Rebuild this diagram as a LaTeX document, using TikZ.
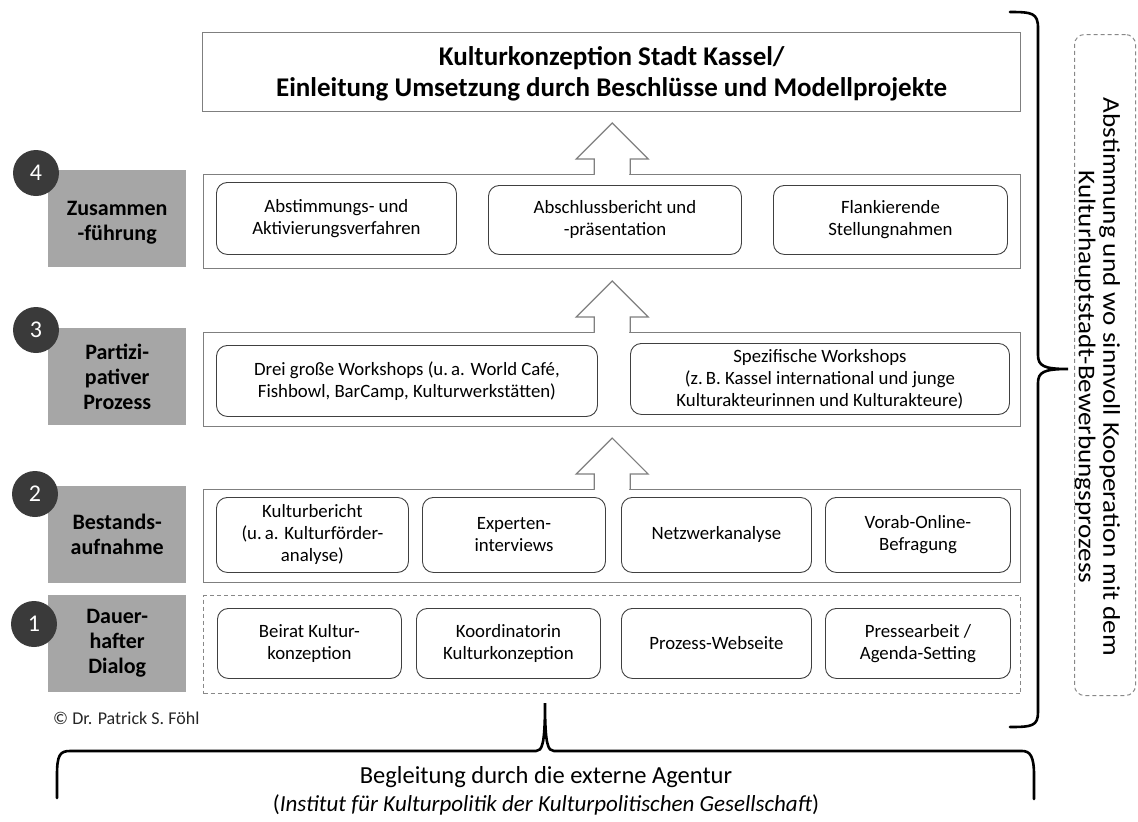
\documentclass[tikz,border=0pt]{standalone}
\usepackage{fontspec}
\setmainfont{Carlito}
\usetikzlibrary{calc}
\definecolor{boxgray}{HTML}{7F7F7F}
\definecolor{labelgray}{HTML}{A6A6A6}
\definecolor{circgray}{HTML}{3A3A3A}
\definecolor{inline}{HTML}{404040}
\definecolor{dashgray}{HTML}{888888}
\begin{document}
\begin{tikzpicture}[x=1pt,y=-1pt,
  outerbox/.style={draw=boxgray, line width=1.3pt, inner sep=0pt, anchor=north west},
  dashbox/.style={draw=dashgray, line width=1pt, dash pattern=on 4pt off 3pt, inner sep=0pt, anchor=north west},
  inbox/.style={draw=inline, line width=0.9pt, rounded corners=11pt, inner sep=0pt, anchor=north west, align=center, font=\fontsize{18.8}{22}\selectfont},
  glabel/.style={fill=labelgray, inner sep=0pt, anchor=north west, minimum width=138pt, minimum height=97pt},
  gtext/.style={align=center, inner sep=0pt, font=\bfseries\fontsize{22}{25}\selectfont},
  numc/.style={circle, fill=circgray, text=white, minimum size=46pt, inner sep=0pt, font=\fontsize{24}{24}\selectfont},
  arrowline/.style={draw=boxgray, line width=1.2pt, line join=miter},
  bracel/.style={draw=black, line width=2.6pt, line cap=round},
]
\useasboundingbox (0,0) rectangle (1138,822);

% title
\node[outerbox, minimum width=818pt, minimum height=79pt, align=center,
  font=\bfseries\fontsize{27}{31}\selectfont] (title) at (202,32)
  {\rule{0pt}{22pt}Kulturkonzeption Stadt Kassel/\\Einleitung Umsetzung durch Beschlüsse und Modellprojekte};

% row 4
\node[outerbox, minimum width=817pt, minimum height=94pt] (b4) at (203,174) {};
\node[inbox, minimum width=240pt, minimum height=72pt] (b4a) at (216,182) {Abstimmungs- und\\Aktivierungsverfahren};
\node[inbox, minimum width=253pt, minimum height=69pt] (b4b) at (488,185) {Abschlussbericht und\\-präsentation};
\node[inbox, minimum width=234pt, minimum height=69pt] (b4c) at (773,185) {Flankierende\\Stellungnahmen};
\node[glabel] (l4) at (48,170) {};
\node[gtext] (t4) at ($(l4.center)+(0,4)$) {Zusammen\\-führung};
\node[numc] (n4) at (36,173) {4};

% row 3
\node[outerbox, minimum width=817pt, minimum height=94pt] (b3) at (203,332) {};
\node[inbox, minimum width=381pt, minimum height=71pt] (b3a) at (216,345) {Drei große Workshops (u.\,a. World Café,\\Fishbowl, BarCamp, Kulturwerkstätten)};
\node[inbox, minimum width=379pt, minimum height=71pt] (b3b) at (630,343) {Spezifische Workshops\\(z.\,B. Kassel international und junge\\Kulturakteurinnen und Kulturakteure)};
\node[glabel] (l3) at (48,328) {};
\node[gtext] (t3) at (l3.center) {Partizi-\\pativer\\Prozess};
\node[numc] (n3) at (36,330) {3};

% row 2
\node[outerbox, minimum width=817pt, minimum height=93pt] (b2) at (203,489) {};
\node[inbox, minimum width=192pt, minimum height=75pt] (b2a) at (216,497) {Kulturbericht\\(u.\,a. Kulturförder-\\analyse)};
\node[inbox, minimum width=183pt, minimum height=75pt] (b2b) at (422,497) {Experten-\\interviews};
\node[inbox, minimum width=190pt, minimum height=75pt] (b2c) at (621,497) {Netzwerkanalyse};
\node[inbox, minimum width=185pt, minimum height=75pt] (b2d) at (825,497) {Vorab-Online-\\Befragung};
\node[glabel] (l2) at (48,486) {};
\node[gtext] (t2) at (l2.center) {Bestands-\\aufnahme};
\node[numc] (n2) at (35,494) {2};

% row 1
\node[dashbox, minimum width=817pt, minimum height=98pt] (b1) at (203,595) {};
\node[inbox, minimum width=184pt, minimum height=70pt] (b1a) at (217,608) {Beirat Kultur-\\konzeption};
\node[inbox, minimum width=184pt, minimum height=70pt] (b1b) at (416,608) {Koordinatorin\\Kulturkonzeption};
\node[inbox, minimum width=190pt, minimum height=70pt] (b1c) at (621,608) {Prozess-Webseite};
\node[inbox, minimum width=185pt, minimum height=70pt] (b1d) at (825,608) {Pressearbeit /\\Agenda-Setting};
\node[glabel] (l1) at (48,595) {};
\node[gtext] (t1) at (l1.center) {Dauer-\\hafter\\Dialog};
\node[numc] (n1) at (34,624) {1};

% block arrows
\foreach \b in {b4,b3,b2}{
  \fill[white] ($(\b.north)+(-17.3,1.2)$) rectangle ($(\b.north)+(17.3,-15)$);
  \filldraw[arrowline, fill=white] ($(\b.north)+(-18,0)$) -- ($(\b.north)+(-18,-15)$) -- ($(\b.north)+(-36,-15)$)
    -- ($(\b.north)+(0,-51)$) -- ($(\b.north)+(36,-15)$) -- ($(\b.north)+(18,-15)$) -- ($(\b.north)+(18,0)$);
}

% copyright
\node[anchor=west, text=black!85, font=\fontsize{18}{20}\selectfont, inner sep=0pt] (copy) at (53,718) {© Dr. Patrick S. Föhl};

% right dashed box with text
\node[draw=dashgray, line width=1pt, dash pattern=on 4pt off 3pt, rounded corners=10pt,
  anchor=north west, minimum width=61pt, minimum height=661pt, inner sep=0pt] (rbox) at (1074,34) {};
\node[rotate=-90, inner sep=0pt] (rtext) at (1096,377)
  {\scalebox{1.13}[1]{\fontsize{24}{24.5}\selectfont\begin{tabular}{@{}c@{}}Abstimmung und wo sinnvoll Kooperation mit dem\\Kulturhauptstadt-Bewerbungsprozess\end{tabular}}};

% right brace
\coordinate (rbtop) at (1010,12);
\coordinate (rbtip) at (1068,369);
\coordinate (rbbot) at (1010,727);
\draw[bracel] (rbtop) .. controls (1032,12) and (1038,13) .. (1038,28) -- (1038,355)
  .. controls (1038,366) and (1044,369) .. (rbtip)
  .. controls (1044,369) and (1038,372) .. (1038,383) -- (1038,712)
  .. controls (1038,726) and (1032,727) .. (rbbot);

% bottom brace
\coordinate (bbl) at (57,798);
\coordinate (bbtip) at (545,703);
\coordinate (bbr) at (1034,799);
\draw[bracel] (bbl) -- (57,775) .. controls (57,755) and (60,751) .. (70,751) -- (536,751)
  .. controls (542,751) and (545,745) .. (bbtip)
  .. controls (545,745) and (548,751) .. (554,751) -- (1022,751)
  .. controls (1030,751) and (1034,756) .. (1034,775) -- (bbr);

% bottom text
\node[inner sep=0pt, font=\fontsize{24.5}{29}\selectfont] (btext) at (546,777) {Begleitung durch die externe Agentur};
\node[inner sep=0pt, font=\fontsize{23}{29}\selectfont] (btext2) at (546,805)
  {(\textit{Institut für Kulturpolitik der Kulturpolitischen Gesellschaft})};
\end{tikzpicture}
\end{document}
